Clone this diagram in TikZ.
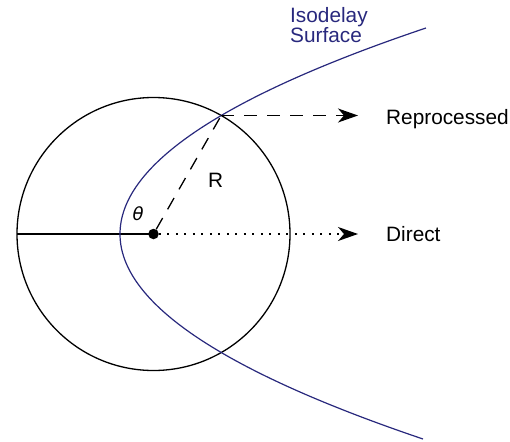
\documentclass[tikz,border=0pt]{standalone}
\usepackage{fontspec}
\setmainfont{Liberation Sans}
\newfontfamily\dvs{DejaVu Sans}
\usetikzlibrary{arrows.meta}
\definecolor{navy}{RGB}{40,40,125}
\tikzset{
  lbl/.style={font=\fontsize{20.8}{20}\selectfont, anchor=base west, inner sep=0pt},
  tip/.style={-{Stealth[length=20pt,width=14pt,inset=6pt]}},
  ln/.style={line width=1.3pt, black}
}
\begin{document}
\begin{tikzpicture}[x=1pt,y=-1pt]
\useasboundingbox (0,0) rectangle (510,441);
\node[circle, fill=black, minimum size=10.5pt, inner sep=0pt] (c) at (153.5,234) {};
\draw[ln] (c.center) circle (136.5);
\coordinate (l) at (17,234);
\coordinate (p) at (221.2,115.5);
\coordinate (a1) at (358,115.5);
\coordinate (a2) at (358,234);
\draw[ln] (l) -- (c.center);
\draw[navy, line width=1.2pt, domain=-206:205, samples=120, smooth, variable=\t] plot ({120+(\t/10)*(\t/10)/1.387},{234+\t});
\draw[ln, dash pattern=on 13pt off 10pt] (c) -- (p);
\draw[ln, dash pattern=on 13pt off 10pt, tip] (p) -- (a1);
\draw[ln, dash pattern=on 2pt off 6.5pt, tip] (c) -- (a2);
\node[lbl] (rep) at (386,124) {Reprocessed};
\node[lbl] (dir) at (386,241) {Direct};
\node[lbl] (r) at (208,187) {R};
\node[lbl, font=\fontsize{18}{20}\selectfont\dvs\itshape] (th) at (132.5,220) {θ};
\node[lbl, text=navy] (iso1) at (290,23) {Isodelay};
\node[lbl, text=navy] (iso2) at (290,43) {Surface};
\end{tikzpicture}
\end{document}
